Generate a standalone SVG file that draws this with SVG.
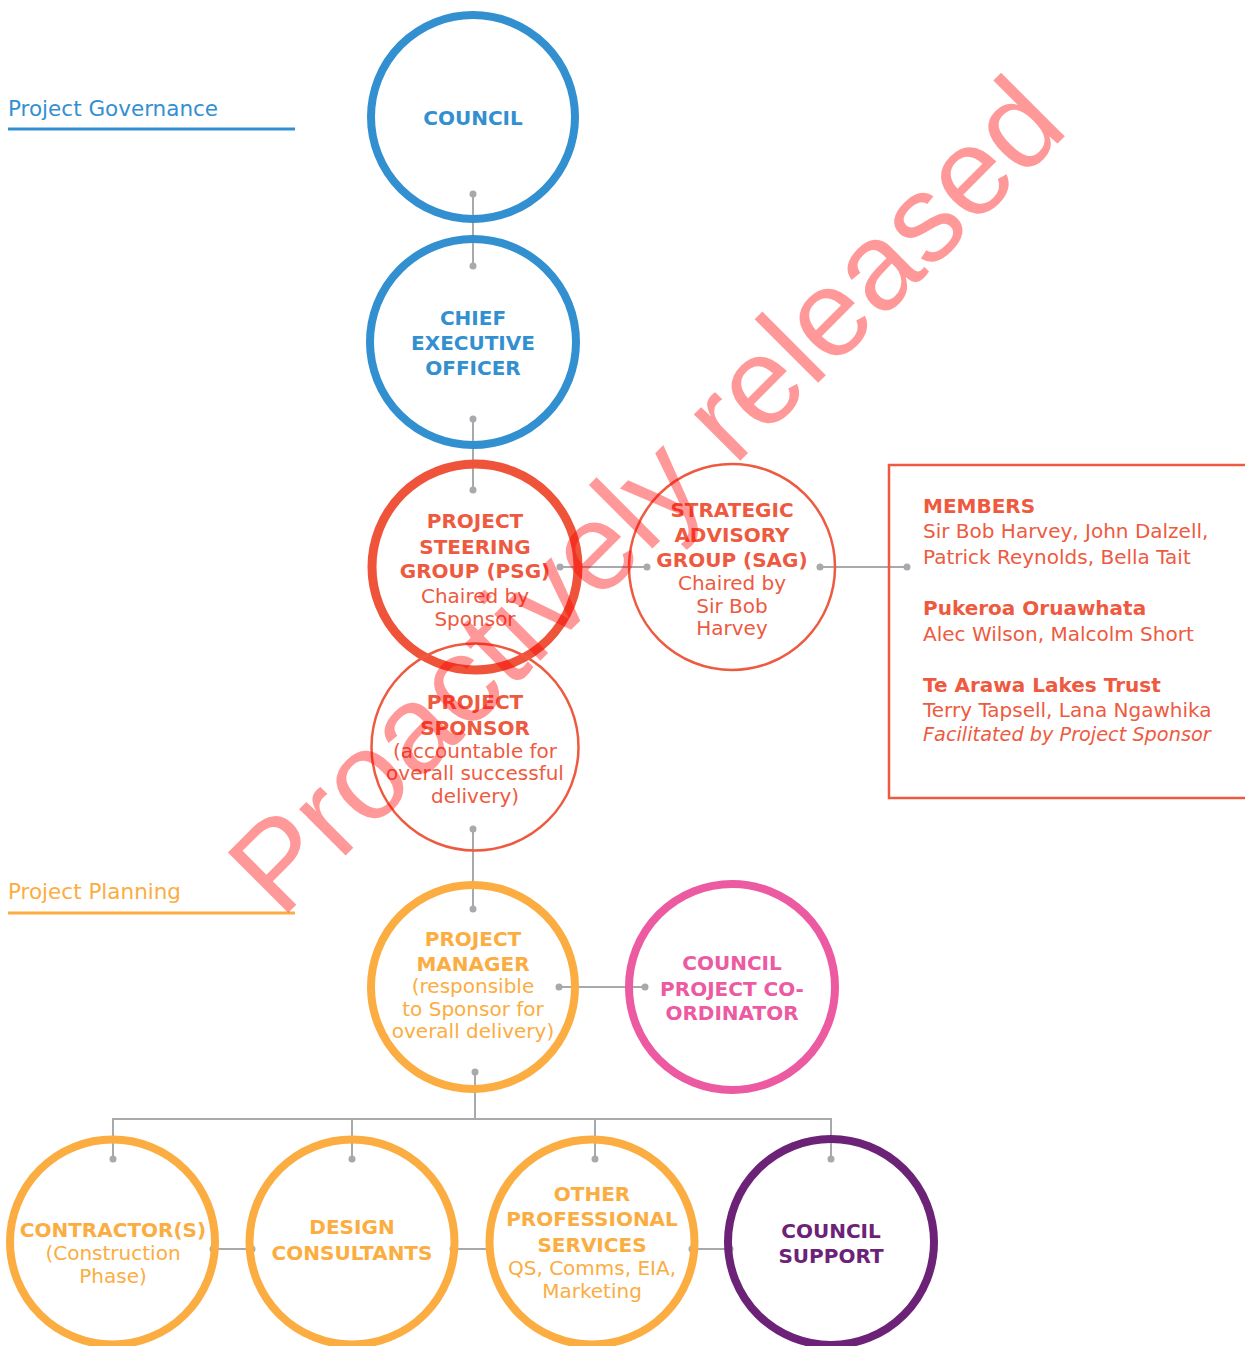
<svg xmlns="http://www.w3.org/2000/svg" width="1245" height="1346" viewBox="0 0 1245 1346">
  <style>
    text { font-family: "DejaVu Sans", "Liberation Sans", sans-serif; font-size: 20px; }
    .c { text-anchor: middle; }
    .b { font-weight: bold; }
    .it { font-style: italic; font-size: 19.3px; }
    .ring { fill: none; }
    .blue { fill: #3390d0; }
    .red { fill: #ee5a40; }
    .orange { fill: #fbad41; }
    .pink { fill: #ec5aa1; }
    .purple { fill: #6c2277; }
    .ring-blue { stroke: #3390d0; stroke-width: 8; }
    .ring-red-thick { stroke: #ef5339; stroke-width: 9; }
    .ring-red-thin { stroke: #ee5a40; stroke-width: 2.5; }
    .ring-orange { stroke: #fbad41; stroke-width: 8; }
    .ring-pink { stroke: #ec5aa1; stroke-width: 8; }
    .ring-purple { stroke: #6c2277; stroke-width: 8; }
    .wire { stroke: #a7a9ac; stroke-width: 2; fill: none; }
    .dot { fill: #a7a9ac; }
    .section { font-size: 21.5px; }
    .stamp { font-family: "Liberation Sans", Arial, sans-serif; font-size: 124px; fill: #ff0000; fill-opacity: 0.4; }
  </style>

  <!-- section headings -->
  <g id="label-governance">
    <text x="8" y="116" class="section blue">Project Governance</text>
    <line x1="8" y1="129" x2="295" y2="129" stroke="#3390d0" stroke-width="3"/>
  </g>
  <g id="label-planning">
    <text x="8" y="899" class="section orange">Project Planning</text>
    <line x1="8" y1="913" x2="295" y2="913" stroke="#fbad41" stroke-width="3"/>
  </g>

  <!-- connectors -->
  <g id="connectors">
    <line class="wire" x1="473" y1="194" x2="473" y2="266"/>
    <circle class="dot" cx="473" cy="194" r="3.5"/><circle class="dot" cx="473" cy="266" r="3.5"/>

    <line class="wire" x1="473" y1="419" x2="473" y2="490"/>
    <circle class="dot" cx="473" cy="419" r="3.5"/><circle class="dot" cx="473" cy="490" r="3.5"/>

    <line class="wire" x1="560" y1="567" x2="647" y2="567"/>
    <circle class="dot" cx="560" cy="567" r="3.5"/><circle class="dot" cx="647" cy="567" r="3.5"/>

    <line class="wire" x1="820" y1="567" x2="907" y2="567"/>
    <circle class="dot" cx="820" cy="567" r="3.5"/><circle class="dot" cx="907" cy="567" r="3.5"/>

    <line class="wire" x1="473" y1="829" x2="473" y2="909"/>
    <circle class="dot" cx="473" cy="829" r="3.5"/><circle class="dot" cx="473" cy="909" r="3.5"/>

    <line class="wire" x1="559" y1="987" x2="645" y2="987"/>
    <circle class="dot" cx="559" cy="987" r="3.5"/><circle class="dot" cx="645" cy="987" r="3.5"/>

    <!-- project manager to delivery teams -->
    <polyline class="wire" points="475,1072 475,1119"/>
    <circle class="dot" cx="475" cy="1072" r="3.5"/>
    <polyline class="wire" points="113,1159 113,1119 831,1119 831,1159"/>
    <line class="wire" x1="352" y1="1119" x2="352" y2="1159"/>
    <line class="wire" x1="595" y1="1119" x2="595" y2="1159"/>
    <circle class="dot" cx="113" cy="1159" r="3.5"/>
    <circle class="dot" cx="352" cy="1159" r="3.5"/>
    <circle class="dot" cx="595" cy="1159" r="3.5"/>
    <circle class="dot" cx="831" cy="1159" r="3.5"/>

    <line class="wire" x1="213" y1="1249" x2="252" y2="1249"/>
    <circle class="dot" cx="213" cy="1249" r="3.5"/><circle class="dot" cx="252" cy="1249" r="3.5"/>
    <line class="wire" x1="453" y1="1249" x2="490" y2="1249"/>
    <circle class="dot" cx="453" cy="1249" r="3.5"/><circle class="dot" cx="490" cy="1249" r="3.5"/>
    <line class="wire" x1="692" y1="1249" x2="730" y2="1249"/>
    <circle class="dot" cx="692" cy="1249" r="3.5"/><circle class="dot" cx="730" cy="1249" r="3.5"/>
  </g>

  <!-- governance -->
  <g id="council">
    <circle class="ring ring-blue" cx="473" cy="117" r="102"/>
    <text class="c b blue" x="473" y="125">COUNCIL</text>
  </g>

  <g id="ceo">
    <circle class="ring ring-blue" cx="473" cy="342" r="103"/>
    <text class="c b blue" x="473" y="325">CHIEF</text>
    <text class="c b blue" x="473" y="350">EXECUTIVE</text>
    <text class="c b blue" x="473" y="375">OFFICER</text>
  </g>

  <g id="psg">
    <circle class="ring ring-red-thick" cx="475" cy="567" r="103"/>
    <text class="c b red" x="475" y="528">PROJECT</text>
    <text class="c b red" x="475" y="554">STEERING</text>
    <text class="c b red" x="475" y="578">GROUP (PSG)</text>
    <text class="c red" x="475" y="603">Chaired by</text>
    <text class="c red" x="475" y="626">Sponsor</text>
  </g>

  <g id="sag">
    <circle class="ring ring-red-thin" cx="732" cy="567" r="103"/>
    <text class="c b red" x="732" y="517">STRATEGIC</text>
    <text class="c b red" x="732" y="542">ADVISORY</text>
    <text class="c b red" x="732" y="567">GROUP (SAG)</text>
    <text class="c red" x="732" y="590">Chaired by</text>
    <text class="c red" x="732" y="613">Sir Bob</text>
    <text class="c red" x="732" y="635">Harvey</text>
  </g>

  <g id="sag-members">
    <rect x="889" y="465" width="380" height="333" fill="none" stroke="#ee5a40" stroke-width="2.5"/>
    <text class="b red" x="923" y="513">MEMBERS</text>
    <text class="red" x="923" y="538">Sir Bob Harvey, John Dalzell,</text>
    <text class="red" x="923" y="564">Patrick Reynolds, Bella Tait</text>
    <text class="b red" x="923" y="615">Pukeroa Oruawhata</text>
    <text class="red" x="923" y="641">Alec Wilson, Malcolm Short</text>
    <text class="b red" x="923" y="692">Te Arawa Lakes Trust</text>
    <text class="red" x="923" y="717">Terry Tapsell, Lana Ngawhika</text>
    <text class="it red" x="923" y="741">Facilitated by Project Sponsor</text>
  </g>

  <g id="sponsor">
    <circle class="ring ring-red-thin" cx="475" cy="747" r="103.5"/>
    <text class="c b red" x="475" y="709">PROJECT</text>
    <text class="c b red" x="475" y="735">SPONSOR</text>
    <text class="c red" x="475" y="758">(accountable for</text>
    <text class="c red" x="475" y="780">overall successful</text>
    <text class="c red" x="475" y="803">delivery)</text>
  </g>

  <!-- planning -->
  <g id="project-manager">
    <circle class="ring ring-orange" cx="473" cy="987" r="102"/>
    <text class="c b orange" x="473" y="946">PROJECT</text>
    <text class="c b orange" x="473" y="971">MANAGER</text>
    <text class="c orange" x="473" y="993">(responsible</text>
    <text class="c orange" x="473" y="1016">to Sponsor for</text>
    <text class="c orange" x="473" y="1038">overall delivery)</text>
  </g>

  <g id="project-coordinator">
    <circle class="ring ring-pink" cx="732" cy="987" r="103"/>
    <text class="c b pink" x="732" y="970">COUNCIL</text>
    <text class="c b pink" x="732" y="996">PROJECT CO-</text>
    <text class="c b pink" x="732" y="1020">ORDINATOR</text>
  </g>

  <g id="contractors">
    <circle class="ring ring-orange" cx="112.5" cy="1242" r="102.5"/>
    <text class="c b orange" x="113" y="1237">CONTRACTOR(S)</text>
    <text class="c orange" x="113" y="1260">(Construction</text>
    <text class="c orange" x="113" y="1283">Phase)</text>
  </g>

  <g id="design-consultants">
    <circle class="ring ring-orange" cx="352" cy="1242" r="102.5"/>
    <text class="c b orange" x="352" y="1234">DESIGN</text>
    <text class="c b orange" x="352" y="1260">CONSULTANTS</text>
  </g>

  <g id="other-services">
    <circle class="ring ring-orange" cx="592" cy="1242" r="102.5"/>
    <text class="c b orange" x="592" y="1201">OTHER</text>
    <text class="c b orange" x="592" y="1226">PROFESSIONAL</text>
    <text class="c b orange" x="592" y="1252">SERVICES</text>
    <text class="c orange" x="592" y="1275">QS, Comms, EIA,</text>
    <text class="c orange" x="592" y="1298">Marketing</text>
  </g>

  <g id="council-support">
    <circle class="ring ring-purple" cx="831" cy="1242" r="103"/>
    <text class="c b purple" x="831" y="1238">COUNCIL</text>
    <text class="c b purple" x="831" y="1263">SUPPORT</text>
  </g>

  <!-- release stamp across the chart -->
  <text id="stamp" class="stamp" transform="translate(281,920) rotate(-45)">Proactively released</text>
</svg>
